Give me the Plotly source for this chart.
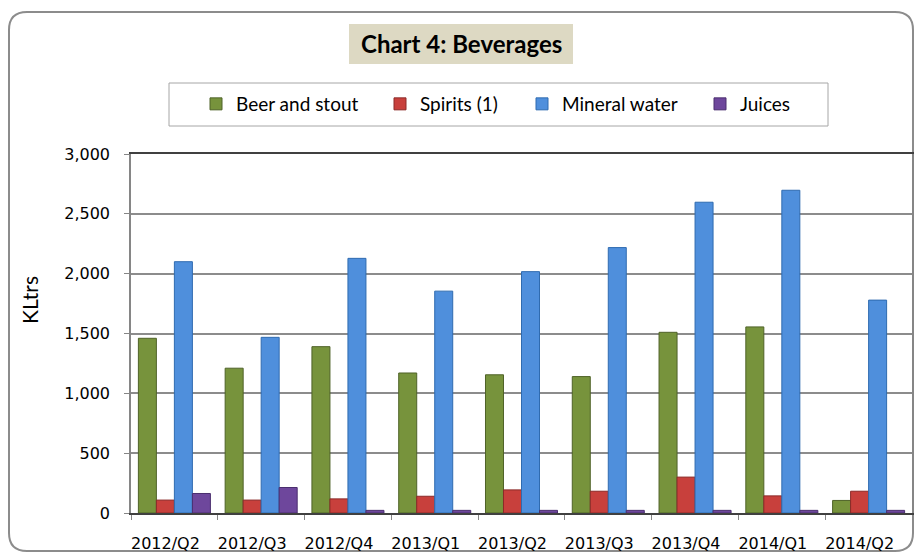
import plotly.graph_objects as go

# data (KLtrs)
quarters = ["2012/Q2", "2012/Q3", "2012/Q4", "2013/Q1", "2013/Q2",
            "2013/Q3", "2013/Q4", "2014/Q1", "2014/Q2"]
beer = [1460, 1210, 1390, 1170, 1155, 1140, 1510, 1555, 105]
spirits = [108, 108, 118, 140, 193, 182, 300, 143, 182]
mineral = [2100, 1468, 2128, 1854, 2017, 2218, 2597, 2697, 1779]
juices = [163, 213, 22, 22, 22, 22, 22, 22, 22]

series_names = ["Beer and stout", "Spirits (1)", "Mineral water", "Juices"]
y_ticks = [0, 500, 1000, 1500, 2000, 2500, 3000]

COLORS = ["#77933C", "#C8403C", "#4F8FDC", "#6E479C"]
EDGES = ["#4F6228", "#8B2A28", "#2F6BB0", "#4A2E6E"]

# page body has an 8px margin, so the figure is shrunk and shifted to fit
OFF = 8
W, H = 923 - 2 * OFF, 560 - 2 * OFF
L, T = 131 - OFF, 154 - OFF
R = W - (912 - OFF)
B = H - (513 - OFF)
PW, PH = W - L - R, H - T - B


def px(x):
    # page pixel -> paper x
    return (x - OFF - L) / PW


def py(y):
    # page pixel -> paper y
    return (T + PH - (y - OFF)) / PH


fig = go.Figure()
legend_left = [196, 380, 522, 700]
for i, (name, vals) in enumerate(zip(series_names, [beer, spirits, mineral, juices])):
    lg = "legend" if i == 0 else f"legend{i + 1}"
    fig.add_trace(go.Bar(
        x=quarters, y=vals, name=name, showlegend=True,
        marker=dict(color=COLORS[i], line=dict(color=EDGES[i], width=1)),
        legend=lg,
    ))

legend_style = dict(
    orientation="h", yanchor="middle", y=py(104), xanchor="left",
    bgcolor="rgba(0,0,0,0)", borderwidth=0,
    font=dict(family="Lato, sans-serif", size=19, color="#000000"),
)
layout_legends = {}
for i, lx in enumerate(legend_left):
    key = "legend" if i == 0 else f"legend{i + 1}"
    layout_legends[key] = dict(legend_style, x=px(lx))

# outer rounded frame
x0, x1, y0, y1, r = 9, 913, 12, 551, 18
frame = (
    f"M {px(x0 + r)},{py(y0)} L {px(x1 - r)},{py(y0)} "
    f"Q {px(x1)},{py(y0)} {px(x1)},{py(y0 + r)} "
    f"L {px(x1)},{py(y1 - r)} Q {px(x1)},{py(y1)} {px(x1 - r)},{py(y1)} "
    f"L {px(x0 + r)},{py(y1)} Q {px(x0)},{py(y1)} {px(x0)},{py(y1 - r)} "
    f"L {px(x0)},{py(y0 + r)} Q {px(x0)},{py(y0)} {px(x0 + r)},{py(y0)} Z"
)

shapes = [
    dict(type="path", xref="paper", yref="paper", path=frame,
         line=dict(color="#8C8C8C", width=2), layer="below"),
    dict(type="rect", xref="paper", yref="paper",
         x0=px(349), x1=px(573), y0=py(64), y1=py(24),
         fillcolor="#DDD9C3", line=dict(width=0), layer="below"),
    dict(type="rect", xref="paper", yref="paper",
         x0=px(169), x1=px(828), y0=py(126), y1=py(83),
         fillcolor="rgba(0,0,0,0)", line=dict(color="#A6A6A6", width=1), layer="below"),
]

annotations = [
    dict(text="<b>Chart 4: Beverages</b>", xref="paper", yref="paper",
         x=px(461), y=py(44), showarrow=False, xanchor="center", yanchor="middle",
         font=dict(family="Lato, sans-serif", size=24, color="#000000")),
    dict(text="KLtrs", xref="paper", yref="paper", x=px(29), y=py(300),
         showarrow=False, textangle=-90, xanchor="center", yanchor="middle",
         font=dict(family="Lato, sans-serif", size=21, color="#000000")),
]

tick_font = dict(family="DejaVu Sans, sans-serif", size=16, color="#000000")

fig.update_layout(
    width=W, height=H,
    margin=dict(l=L, r=R, t=T, b=B, autoexpand=False),
    paper_bgcolor="white", plot_bgcolor="white",
    barmode="group", bargap=0.17, bargroupgap=0,
    shapes=shapes, annotations=annotations,
    **layout_legends,
    xaxis=dict(
        showline=True, mirror=True, linecolor="#404040", linewidth=1.5,
        ticks="outside", ticklen=5, tickcolor="#868686", tickson="boundaries",
        tickfont=tick_font, ticklabelstandoff=15, ticklabelshift=-9,
        showgrid=False,
    ),
    yaxis=dict(
        range=[0, 3000], tickvals=y_ticks, tickformat=",d",
        showline=True, mirror=True, linecolor="#868686", linewidth=1.5,
        ticks="outside", ticklen=5, tickcolor="#868686",
        gridcolor="#8C8C8C", gridwidth=1.5,
        tickfont=tick_font, ticklabelstandoff=11,
    ),
)

fig.write_html("out.html")
